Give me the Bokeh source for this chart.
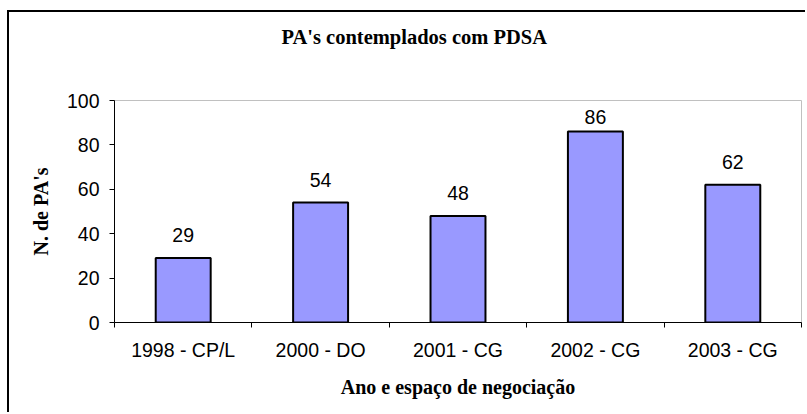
from bokeh.plotting import figure
from bokeh.models import Range1d, FixedTicker, Title
from bokeh.core.properties import value
from bokeh.embed import file_html
from bokeh.resources import INLINE

categories = ["1998 - CP/L", "2000 - DO", "2001 - CG", "2002 - CG", "2003 - CG"]
counts = [29, 54, 48, 86, 62]
y_ticks = [0, 20, 40, 60, 80, 100]
title_text = "PA's contemplados com PDSA"
x_label = "Ano e espaço de negociação"
y_label = "N. de PA's"

n = len(categories)
centers = [i + 0.5 for i in range(n)]
bounds = [i for i in range(n + 1)]
# labels near the top of the plot area sit closer to their bar (as in the source chart)
label_offsets = [-15 if c > 80 else -23 for c in counts]

p = figure(width=798, height=402, output_backend="svg", toolbar_location=None,
           x_range=Range1d(0, n), y_range=Range1d(0, 100),
           min_border_left=105, min_border_right=6, min_border_top=88, min_border_bottom=92)

p.styles = {"margin-left": "7px", "margin-top": "10px",
            "border-left": "2px solid black", "border-top": "2px solid black"}

p.background_fill_color = "white"
p.border_fill_color = "white"
p.outline_line_color = "#C0C0C0"
p.outline_line_width = 1
p.xgrid.visible = False
p.ygrid.visible = False

# main title (outermost) + invisible spacer between it and the plot area
p.title.text = title_text
p.title.align = "left"
p.title.offset = 167
p.title.standoff = 0
p.title.text_font = "Liberation Serif"
p.title.text_font_style = "bold"
p.title.text_font_size = "20.5px"
p.title.text_color = "black"

spacer = Title(text=" ", text_font_size="1px", standoff=50, text_color="white")
p.add_layout(spacer, "above")

p.vbar(x=centers, top=counts, width=0.4, bottom=0,
       fill_color="#9999FF", line_color="black", line_width=2)

p.text(x=centers, y=counts, text=[str(c) for c in counts], y_offset=label_offsets,
       text_align="center", text_baseline="alphabetic",
       text_font=value("Liberation Sans"), text_font_size="19.5px", text_color="black")

# x axis
xa = p.xaxis[0]
xa.ticker = FixedTicker(ticks=centers, minor_ticks=bounds)
xa.major_label_overrides = {c: cat for c, cat in zip(centers, categories)}
xa.major_tick_out = 0
xa.major_tick_in = 0
xa.minor_tick_out = 5
xa.minor_tick_in = 0
xa.minor_tick_line_color = "black"
xa.major_label_standoff = 11
xa.major_label_text_font = "Liberation Sans"
xa.major_label_text_font_size = "19.5px"
xa.major_label_text_color = "black"
xa.axis_line_color = "black"
xa.axis_label = x_label
xa.axis_label_standoff = 12
xa.axis_label_text_font = "Liberation Serif"
xa.axis_label_text_font_style = "bold"
xa.axis_label_text_font_size = "20px"
xa.axis_label_text_color = "black"

# y axis
ya = p.yaxis[0]
ya.ticker = FixedTicker(ticks=y_ticks, minor_ticks=[])
ya.major_tick_out = 5
ya.major_tick_in = 0
ya.major_tick_line_color = "black"
ya.major_label_standoff = 10
ya.major_label_text_font = "Liberation Sans"
ya.major_label_text_font_size = "19.5px"
ya.major_label_text_color = "black"
ya.axis_line_color = "black"
ya.axis_label = y_label
ya.axis_label_standoff = 12
ya.axis_label_text_font = "Liberation Serif"
ya.axis_label_text_font_style = "bold"
ya.axis_label_text_font_size = "20px"
ya.axis_label_text_color = "black"

open("out.html", "w").write(file_html(p, INLINE))
